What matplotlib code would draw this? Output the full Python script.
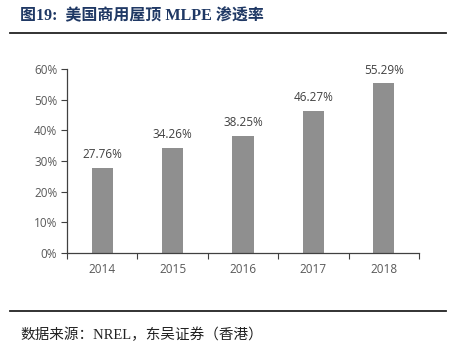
import matplotlib.pyplot as plt
from matplotlib.lines import Line2D

years = ["2014", "2015", "2016", "2017", "2018"]
rates = [27.76, 34.26, 38.25, 46.27, 55.29]
y_ticks = [0, 10, 20, 30, 40, 50, 60]

title_text = "图19:  美国商用屋顶 MLPE 渗透率"
source_text = "数据来源：NREL，东吴证券（香港）"

fig = plt.figure(figsize=(4.57, 3.5), dpi=100)
W, H = 457, 350

# axes placed in pixels: left 67, right 419, bottom y=253, top y=69
ax = fig.add_axes([67 / W, 1 - 253 / H, (419 - 67) / W, (253 - 69) / H])

x = range(len(years))
ax.bar(x, rates, width=0.3, color="#8f8f8f", zorder=2)
for xi, v in zip(x, rates):
    ax.text(xi, v + 2.2, f"{v:.2f}%", ha="center", va="bottom",
            fontsize=8.5, color="#404040", family="Open Sans")

ax.set_xlim(-0.5, len(years) - 0.5)
ax.set_ylim(0, 60)
ax.set_yticks(y_ticks)
ax.set_yticklabels([f"{t}%" for t in y_ticks], fontsize=8.5, color="#595959", family="Open Sans")
ax.set_xticks([i - 0.5 for i in range(len(years) + 1)], minor=False)
ax.set_xticklabels([])
ax.set_xticks(list(x), minor=True)
ax.set_xticklabels(years, minor=True, fontsize=8.5, color="#595959", family="Open Sans")
ax.tick_params(axis="x", which="major", length=4, direction="out", color="#404040")
ax.tick_params(axis="x", which="minor", length=0, pad=7)
ax.tick_params(axis="y", length=4, direction="out", color="#404040", pad=3)

for s in ["top", "right"]:
    ax.spines[s].set_visible(False)
for s in ["left", "bottom"]:
    ax.spines[s].set_color("#404040")
    ax.spines[s].set_linewidth(0.9)

# title and source
fig.text(20 / W, 1 - 16 / H, title_text, ha="left", va="center", fontsize=11.5,
         fontweight="bold", color="#1f3864", family=["Liberation Serif", "Noto Sans CJK SC"])
fig.add_artist(Line2D([10 / W, 446 / W], [1 - 32.5 / H] * 2, color="#222222", lw=1.3))
fig.add_artist(Line2D([10 / W, 446 / W], [1 - 311 / H] * 2, color="#222222", lw=1.3))
fig.text(20 / W, 1 - 335 / H, source_text, ha="left", va="center", fontsize=10.5,
         color="#222222", family=["Liberation Serif", "Noto Sans CJK SC"])

fig.savefig("out.png", dpi=100)
